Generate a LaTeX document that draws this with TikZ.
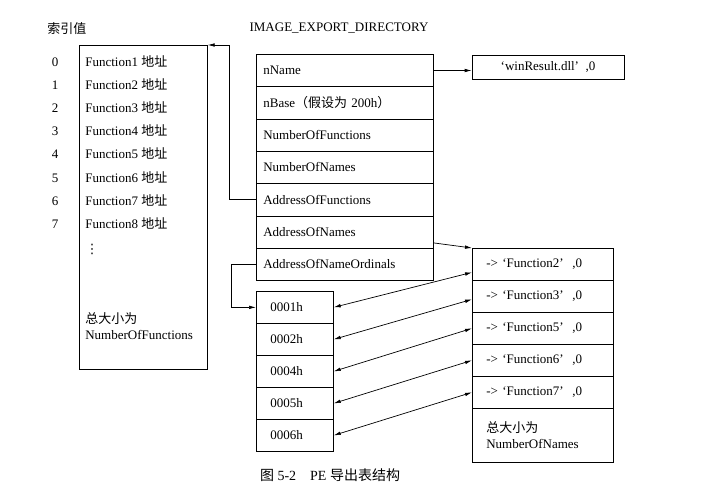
\documentclass[tikz,border=0pt]{standalone}
\usepackage{fontspec}
\setmainfont{Liberation Serif}
\newfontfamily\cjk{Noto Sans CJK SC}
\newfontfamily\symfont{DejaVu Sans}
\usetikzlibrary{arrows.meta}
\usetikzlibrary{calc}
\tikzstyle{DirField}=[rectangle, draw=black, anchor=north west, minimum width=177pt, minimum height=32.3pt, text width=163pt, inner xsep=7pt, inner ysep=0pt, align=left]
\tikzstyle{NameField}=[rectangle, draw=black, anchor=north west, minimum width=141pt, minimum height=32pt, text width=113pt, inner xsep=14pt, inner ysep=0pt, align=left]
\tikzstyle{OrdField}=[rectangle, draw=black, anchor=north west, minimum width=77pt, minimum height=32pt, text width=49pt, inner xsep=14pt, inner ysep=0pt, align=left]
\tikzstyle{EntryText}=[anchor=west, inner sep=0pt, text height=9pt, text depth=3pt]
\tikzstyle{IndexText}=[EntryText, anchor=center]
\tikzstyle{Link}=[-{Latex[length=7pt, width=3.6pt]}]
\tikzstyle{BiLink}=[{Latex[length=7pt, width=3.6pt]}-{Latex[length=7pt, width=3.6pt]}]

\begin{document}
\begin{tikzpicture}[x=1pt, y=-1pt, line width=0.7pt, font=\fontsize{13}{16}\selectfont]
\useasboundingbox (0,0) rectangle (712,496);

% function address table
\node[EntryText](IdxTitle) at (47,30) {{\cjk 索引值}};
\node[rectangle, draw=black, anchor=north west, minimum width=128pt, minimum height=324pt](FuncTable) at (79,45) {};
\node[IndexText](Idx0) at (55,63) {0};
\node[IndexText](Idx1) at (55,86.2) {1};
\node[IndexText](Idx2) at (55,109.4) {2};
\node[IndexText](Idx3) at (55,132.6) {3};
\node[IndexText](Idx4) at (55,155.8) {4};
\node[IndexText](Idx5) at (55,179) {5};
\node[IndexText](Idx6) at (55,202.2) {6};
\node[IndexText](Idx7) at (55,225.4) {7};
\node[EntryText](Func1) at (85,63) {Function1 {\cjk 地址}};
\node[EntryText](Func2) at (85,86.2) {Function2 {\cjk 地址}};
\node[EntryText](Func3) at (85,109.4) {Function3 {\cjk 地址}};
\node[EntryText](Func4) at (85,132.6) {Function4 {\cjk 地址}};
\node[EntryText](Func5) at (85,155.8) {Function5 {\cjk 地址}};
\node[EntryText](Func6) at (85,179) {Function6 {\cjk 地址}};
\node[EntryText](Func7) at (85,202.2) {Function7 {\cjk 地址}};
\node[EntryText](Func8) at (85,225.4) {Function8 {\cjk 地址}};
\node[inner sep=0pt](FuncDots) at (92,249) {{\symfont ⋮}};
\node[anchor=north west, inner sep=0pt, align=left](FuncTotal) at (85,312) {{\cjk 总大小为}\\NumberOfFunctions};

% IMAGE_EXPORT_DIRECTORY
\node(DirTitle) at (339,28) {IMAGE\_EXPORT\_DIRECTORY};
\node[DirField](NameField) at (256,54) {nName};
\node[DirField](BaseField) at (256,86.3) {nBase{\cjk （假设为} 200h{\cjk ）}};
\node[DirField](NumFunc) at (256,118.6) {NumberOfFunctions};
\node[DirField](NumNames) at (256,150.9) {NumberOfNames};
\node[DirField](AddrFunc) at (256,183.2) {AddressOfFunctions};
\node[DirField](AddrNames) at (256,215.5) {AddressOfNames};
\node[DirField](AddrOrd) at (256,247.8) {AddressOfNameOrdinals};

% module name
\node[rectangle, draw=black, minimum width=152pt, minimum height=24pt](DllName) at (548,67) {‘winResult.dll’\ \ ,0};

% name ordinals
\node[OrdField](Ord1) at (256,291) {0001h};
\node[OrdField](Ord2) at (256,323) {0002h};
\node[OrdField](Ord3) at (256,355) {0004h};
\node[OrdField](Ord4) at (256,387) {0005h};
\node[OrdField](Ord5) at (256,419) {0006h};

% function names
\node[NameField](Name1) at (472,248) {-{}>\ ‘Function2’\ \ ,0};
\node[NameField](Name2) at (472,280) {-{}>\ ‘Function3’\ \ ,0};
\node[NameField](Name3) at (472,312) {-{}>\ ‘Function5’\ \ ,0};
\node[NameField](Name4) at (472,344) {-{}>\ ‘Function6’\ \ ,0};
\node[NameField](Name5) at (472,376) {-{}>\ ‘Function7’\ \ ,0};
\node[NameField, minimum height=54pt, align=left](NameTotal) at (472,408) {{\cjk 总大小为}\\NumberOfNames};

% caption
\node[font=\fontsize{14}{17}\selectfont](Caption) at (330,475) {{\cjk 图} 5-2\quad PE {\cjk 导出表结构}};

\draw[Link](NameField.east) -- (NameField.east -| DllName.west);
\draw[Link](AddrFunc.west) -- ++(-27,0) |- (FuncTable.north east);
\draw[Link](AddrNames.-7) -- (Name1.north west);
\draw[Link](AddrOrd.west) -- ++(-25,0) |- (Ord1.west);
\draw[BiLink](Ord1.east) -- ($(Name1.west)+(0,8)$);
\draw[BiLink](Ord2.east) -- ($(Name2.west)+(0,3)$);
\draw[BiLink](Ord3.east) -- (Name3.west);
\draw[BiLink](Ord4.east) -- (Name4.west);
\draw[BiLink](Ord5.east) -- (Name5.west);
\end{tikzpicture}
\end{document}
